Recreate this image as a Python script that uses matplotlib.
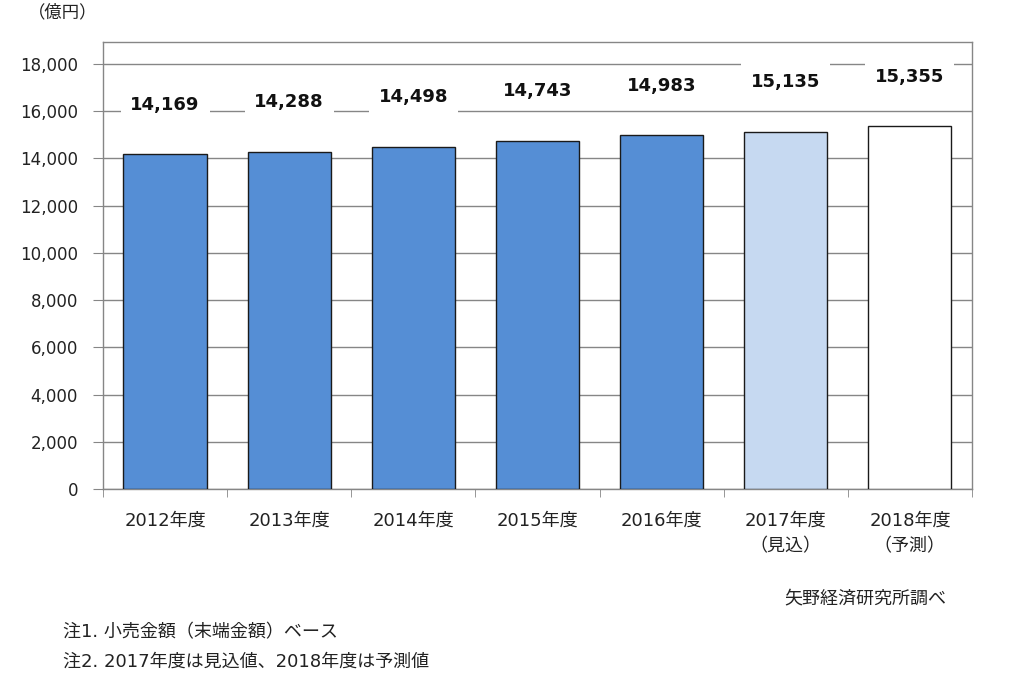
import matplotlib
matplotlib.use("Agg")
import matplotlib.pyplot as plt
import numpy as np

plt.rcParams["font.family"] = ["DejaVu Sans", "Noto Sans CJK JP"]

years = ["2012年度", "2013年度", "2014年度", "2015年度", "2016年度",
         "2017年度\n（見込）", "2018年度\n（予測）"]
values = [14169, 14288, 14498, 14743, 14983, 15135, 15355]
bar_colors = ["#558ed5"] * 5 + ["#c6d9f1", "#ffffff"]
yticks = [0, 2000, 4000, 6000, 8000, 10000, 12000, 14000, 16000, 18000]

fig = plt.figure(figsize=(10.24, 6.97), dpi=100)
ax = fig.add_axes([0.1006, 0.2984, 0.8486, 0.6413])

x = np.arange(len(values))
ax.bar(x, values, width=0.67, color=bar_colors, edgecolor="#1a1a1a",
       linewidth=1.0, zorder=3)

ax.set_xlim(-0.5, len(values) - 0.5)
ax.set_ylim(0, 18930)
ax.set_yticks(yticks)
ax.set_yticklabels([f"{v:,}" for v in yticks], fontsize=12, color="#222222")
ax.yaxis.grid(True, color="#868686", linewidth=1.0, zorder=0)
ax.tick_params(axis="y", length=7, color="#868686", pad=11)

# category labels centred, ticks on the boundaries
ax.set_xticks(x)
ax.set_xticklabels(years, fontsize=13, color="#222222", linespacing=1.6)
ax.tick_params(axis="x", length=0, pad=16)
ax.set_xticks(np.arange(len(values) + 1) - 0.5, minor=True)
ax.tick_params(axis="x", which="minor", length=6, color="#868686")

for s in ["left", "right", "top", "bottom"]:
    ax.spines[s].set_color("#868686")
    ax.spines[s].set_linewidth(1.0)

for xi, v in zip(x, values):
    ax.text(xi, v + 2100, f"{v:,}", ha="center", va="center", fontsize=13,
            fontweight="bold", color="#111111", zorder=4,
            bbox=dict(facecolor="white", edgecolor="none", pad=7))

fig.text(0.027, 0.982, "（億円）", fontsize=12.5, color="#222222", va="center")
fig.text(0.924, 0.142, "矢野経済研究所調べ", fontsize=13, color="#222222",
         ha="right", va="center")
fig.text(0.062, 0.093, "注1. 小売金額（末端金額）ベース", fontsize=13,
         color="#222222", va="center")
fig.text(0.062, 0.050, "注2. 2017年度は見込値、2018年度は予測値", fontsize=13,
         color="#222222", va="center")

fig.savefig("out.png", dpi=100)
